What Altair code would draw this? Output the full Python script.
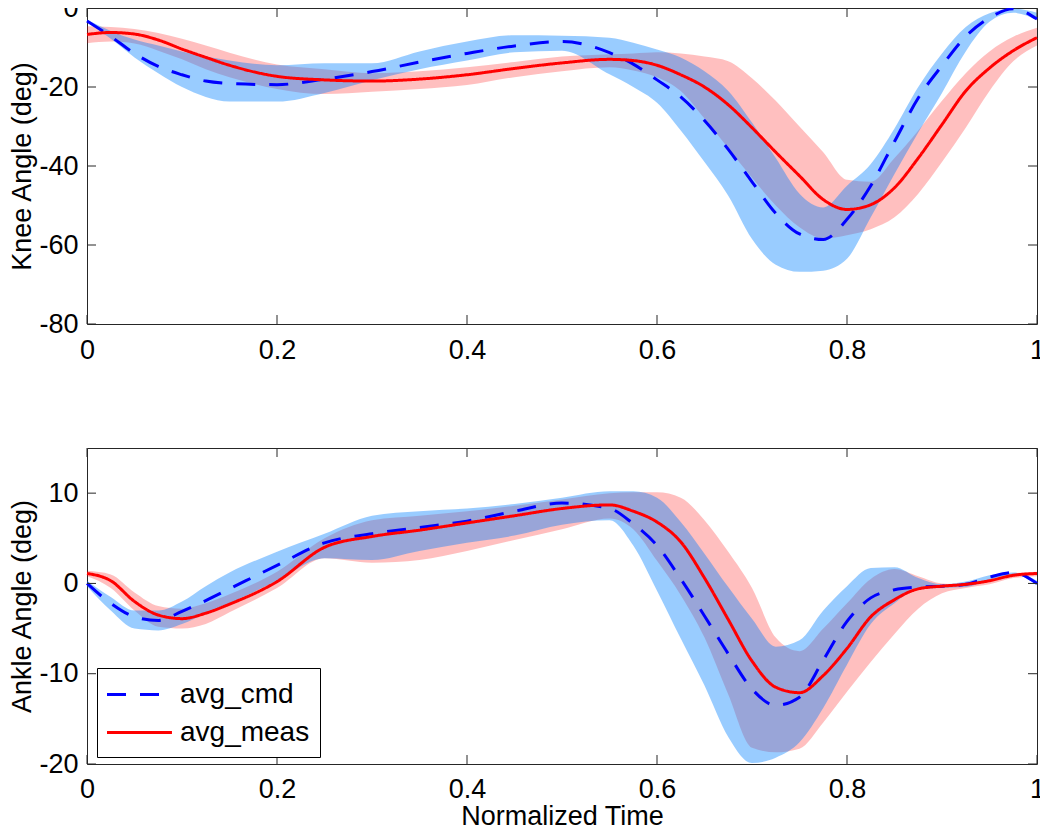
import altair as alt
import pandas as pd

# ---------------- data ----------------
T = [0, 0.025, 0.05, 0.075, 0.1, 0.125, 0.15, 0.2, 0.25, 0.3, 0.35, 0.4, 0.45, 0.5,
     0.55, 0.575, 0.6, 0.625, 0.65, 0.675, 0.7, 0.725, 0.75, 0.775, 0.8, 0.825,
     0.85, 0.875, 0.9, 0.925, 0.95, 0.975, 1.0]

KNEE_CMD = [-3.3, -7.2, -11.5, -14.8, -16.9, -18.5, -19.1, -19.4, -18.0, -16.1, -13.7, -11.5, -9.6, -8.5,
            -11.3, -14.2, -18.2, -22.5, -28.5, -35.8, -44.0, -52.0, -57.2, -58.6, -53.5, -45.0,
            -33.8, -22.8, -14.6, -7.2, -2.5, -0.2, -2.8]
KNEE_CMD_HI = [-3.0, -5.8, -8.0, -9.5, -11.0, -12.3, -13.3, -14.5, -14.0, -14.0, -11.0, -8.5, -6.9, -7.0,
               -7.5, -8.8, -10.5, -12.5, -16.0, -21.0, -29.0, -38.0, -47.0, -50.5, -45.0, -39.5,
               -30.5, -20.0, -11.5, -4.8, -1.3, -0.2, -1.2]
KNEE_CMD_LO = [-3.5, -7.8, -12.5, -16.5, -20.0, -22.5, -23.7, -23.7, -21.5, -18.3, -15.5, -13.3, -11.2, -10.8,
               -16.8, -20.0, -24.0, -31.0, -39.0, -47.5, -58.5, -65.0, -66.8, -66.5, -63.5, -53.0,
               -42.0, -31.5, -21.5, -11.0, -3.5, -1.2, -3.0]
KNEE_MEAS = [-6.7, -6.2, -6.6, -8.1, -10.4, -12.5, -14.5, -17.3, -18.2, -18.5, -18.0, -16.9, -15.3, -13.9,
             -13.0, -13.3, -14.5, -16.9, -20.0, -24.5, -30.3, -36.5, -42.5, -48.5, -51.0, -49.8,
             -45.5, -38.0, -29.5, -21.0, -15.2, -10.8, -7.5]
KNEE_MEAS_HI = [-4.6, -4.8, -5.3, -6.3, -7.8, -9.5, -11.3, -14.3, -15.5, -16.5, -16.0, -15.0, -13.7, -12.3,
                -11.7, -11.5, -11.2, -11.5, -12.3, -13.5, -17.8, -23.5, -30.0, -36.5, -43.5, -44.0,
                -38.0, -31.0, -23.5, -16.5, -11.0, -7.3, -5.0]
KNEE_MEAS_LO = [-8.9, -8.5, -9.0, -10.8, -13.0, -15.5, -17.5, -20.5, -21.8, -21.2, -20.5, -19.5, -17.5, -16.0,
                -15.0, -15.8, -17.5, -21.0, -28.0, -35.5, -43.0, -50.0, -55.5, -58.3, -57.5, -56.0,
                -53.0, -47.0, -39.0, -30.3, -21.0, -13.5, -9.5]

ANKLE_CMD = [0.0, -2.2, -3.7, -4.1, -3.1, -1.9, -0.6, 2.0, 4.5, 5.5, 6.2, 6.9, 8.0, 8.9,
             8.3, 6.6, 4.2, 0.5, -3.6, -7.8, -11.7, -13.5, -12.6, -8.5, -4.2, -1.6,
             -0.7, -0.4, -0.3, -0.1, 0.7, 1.2, 0.0]
ANKLE_CMD_HI = [0.3, -1.5, -3.0, -3.0, -2.0, -0.3, 1.2, 3.5, 5.5, 7.5, 8.0, 8.3, 8.8, 9.5,
                10.2, 10.2, 9.5, 6.8, 3.3, -0.4, -3.9, -7.0, -6.3, -3.0, -0.3, 1.7,
                1.8, 0.6, -0.1, 0.2, 0.9, 1.2, 0.3]
ANKLE_CMD_LO = [-0.3, -3.0, -5.0, -5.2, -4.5, -3.3, -2.2, 0.3, 2.8, 2.6, 3.6, 4.5, 5.3, 6.5,
                7.0, 4.2, -0.8, -6.1, -11.3, -17.0, -19.9, -19.3, -17.6, -13.8, -9.0, -4.5,
                -2.2, -0.6, -0.5, -0.4, 0.4, 1.0, -0.2]
ANKLE_MEAS = [1.1, 0.3, -2.0, -3.5, -3.9, -3.3, -2.3, 0.2, 4.0, 5.2, 5.9, 6.7, 7.5, 8.3,
              8.7, 8.0, 6.8, 4.6, 0.6, -4.0, -8.6, -11.5, -12.1, -10.2, -7.2, -3.7,
              -1.8, -0.6, -0.3, -0.1, 0.3, 0.9, 1.1]
ANKLE_MEAS_HI = [1.4, 1.0, -1.0, -2.5, -2.8, -2.2, -1.2, 1.3, 5.0, 7.0, 7.5, 8.0, 8.6, 9.3,
                 10.0, 10.1, 10.1, 9.5, 7.0, 3.5, -0.5, -6.0, -7.5, -5.0, -2.2, 0.5,
                 1.6, 0.8, 0.0, -0.1, 0.5, 1.1, 1.3]
ANKLE_MEAS_LO = [0.8, -0.5, -3.0, -4.8, -5.0, -4.5, -3.2, -0.5, 2.8, 2.3, 2.6, 3.6, 4.8, 6.0,
                 7.2, 6.0, 2.5, -1.3, -6.0, -12.3, -18.2, -18.7, -18.3, -15.4, -12.0, -8.7,
                 -5.6, -2.8, -1.1, -0.5, -0.1, 0.6, 0.8]

SERIES = ["avg_cmd", "avg_meas"]
X_TICKS = [0, 0.2, 0.4, 0.6, 0.8, 1]
KNEE_TICKS = [-80, -60, -40, -20, 0]
ANKLE_TICKS = [-20, -10, 0, 10]

# ---------------- styling ----------------
W, H = 950, 316
FONT = "Liberation Sans"
FS = 27
FRAME = "#262626"
TICK_LEN = 9


def panel(cmd, cmd_lo, cmd_hi, meas, meas_lo, meas_hi, ydom, yticks, ytitle, xtitle, legend):
    band = pd.DataFrame({"t": T, "cmd_lo": cmd_lo, "cmd_hi": cmd_hi,
                         "meas_lo": meas_lo, "meas_hi": meas_hi})
    lines = pd.DataFrame({"t": T + T, "v": cmd + meas,
                          "series": [SERIES[0]] * len(T) + [SERIES[1]] * len(T)})
    xt = pd.DataFrame({"t": X_TICKS})
    yt = pd.DataFrame({"v": yticks})

    xs = alt.Scale(domain=[0, 1], nice=False, zero=False)
    ys = alt.Scale(domain=ydom, nice=False, zero=False)
    if xtitle is not None:
        xaxis = alt.Axis(values=X_TICKS, labelExpr="'' + datum.value", title=xtitle,
                         labelFlush=False, labelPadding=12, titleY=39)
    else:
        xaxis = alt.Axis(values=X_TICKS, labelExpr="'' + datum.value", title=None,
                         labelFlush=False, labelPadding=13)
    yaxis = alt.Axis(values=yticks, labelExpr="'' + datum.value", title=ytitle,
                     labelFlush=False, labelPadding=9, titlePadding=2)

    X = alt.X("t:Q", scale=xs, axis=xaxis)

    pink = alt.Chart(band).mark_area(color="#ff0000", opacity=0.25, interpolate="monotone").encode(
        x=X, y=alt.Y("meas_lo:Q", scale=ys, axis=yaxis), y2="meas_hi:Q")
    blue = alt.Chart(band).mark_area(color="#0080ff", opacity=0.4, interpolate="monotone").encode(
        x=X, y=alt.Y("cmd_lo:Q", scale=ys, axis=yaxis), y2="cmd_hi:Q")
    cscale = alt.Scale(domain=SERIES, range=["#0000ff", "#ff0000"])
    dscale = alt.Scale(domain=SERIES, range=[[19, 14], [1, 0]])
    if legend is not None:
        color = alt.Color("series:N", scale=cscale, legend=legend)
        dash = alt.StrokeDash("series:N", scale=dscale, legend=legend)
    else:
        color = alt.Color("series:N", scale=cscale, legend=None)
        dash = alt.StrokeDash("series:N", scale=dscale, legend=None)
    line = alt.Chart(lines).mark_line(strokeWidth=3, interpolate="monotone").encode(
        x=X, y=alt.Y("v:Q", scale=ys, axis=yaxis), color=color, strokeDash=dash)

    tick_bottom = alt.Chart(xt).mark_rule(color=FRAME, strokeWidth=1).encode(
        x=X, y=alt.value(H), y2=alt.value(H - TICK_LEN))
    tick_top = alt.Chart(xt).mark_rule(color=FRAME, strokeWidth=1).encode(
        x=X, y=alt.value(0), y2=alt.value(TICK_LEN))
    tick_left = alt.Chart(yt).mark_rule(color=FRAME, strokeWidth=1).encode(
        y=alt.Y("v:Q", scale=ys, axis=yaxis), x=alt.value(0), x2=alt.value(TICK_LEN))
    tick_right = alt.Chart(yt).mark_rule(color=FRAME, strokeWidth=1).encode(
        y=alt.Y("v:Q", scale=ys, axis=yaxis), x=alt.value(W - TICK_LEN), x2=alt.value(W))

    return alt.layer(pink, blue, line, tick_bottom, tick_top, tick_left, tick_right).properties(
        width=W, height=H)


legend = alt.Legend(
    title=None, orient="none", legendX=10, legendY=220,
    symbolType="M-1.1,0H3.23", symbolSize=900, symbolStrokeWidth=3,
    labelFont=FONT, labelFontSize=28, labelColor="black", labelOffset=40,
    rowPadding=7, padding=10, strokeColor="black", fillColor="white", cornerRadius=0,
)

top = panel(KNEE_CMD, KNEE_CMD_LO, KNEE_CMD_HI, KNEE_MEAS, KNEE_MEAS_LO, KNEE_MEAS_HI,
            [-80, 0], KNEE_TICKS, "Knee Angle (deg)", None, None)
bottom = panel(ANKLE_CMD, ANKLE_CMD_LO, ANKLE_CMD_HI, ANKLE_MEAS, ANKLE_MEAS_LO, ANKLE_MEAS_HI,
               [-20, 15], ANKLE_TICKS, "Ankle Angle (deg)", "Normalized Time", legend)

chart = (
    alt.vconcat(top, bottom, spacing=124, bounds="flush")
    .resolve_scale(color="independent", strokeDash="independent")
    .properties(
        padding={"left": 0, "top": -15, "right": -6, "bottom": -3},
        background="white",
    )
    .configure_view(stroke=FRAME, strokeWidth=1)
    .configure_axis(
        labelFont=FONT, labelFontSize=FS, labelColor="black",
        titleFont=FONT, titleFontSize=FS, titleFontWeight="normal", titleColor="black",
        grid=False, domain=False, ticks=False, tickSize=0,
    )
)

chart.save("out.html", embed_options={"renderer": "svg", "actions": False})
